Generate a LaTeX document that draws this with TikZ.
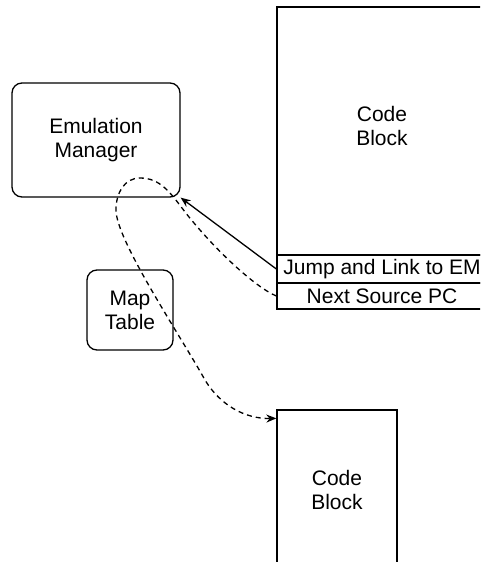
\documentclass[tikz,border=0pt]{standalone}
\usepackage{fontspec}
\setmainfont{Liberation Sans}
\usetikzlibrary{arrows.meta}

\begin{document}
\begin{tikzpicture}[x=1pt, y=-1pt, line width=1.3pt,
	box/.style={draw, rectangle, inner sep=0pt, align=center, font=\fontsize{21}{24}\selectfont},
	rbox/.style={box, rounded corners=10pt},
	emarrow/.style={-{Stealth[length=10pt, width=8pt]}},
	emdash/.style={dash pattern=on 5pt off 4pt}]
	\useasboundingbox (0,0) rectangle (480,562);
	\clip (0,0) rectangle (480,562);
	
	\node[rbox, minimum width=168pt, minimum height=114pt] (em) at (96,140) {Emulation\\Manager};
	\node[rbox, minimum width=86pt, minimum height=80pt] (map) at (130,310) {Map\\Table};
	
	\node[box, minimum width=210pt, minimum height=248pt,
		label={[align=center, yshift=5pt, font=\fontsize{21}{24}\selectfont]center:{Code\\Block}}] (cb1) at (382,131) {};
	\node[box, minimum width=210pt, minimum height=28pt] (jal) at (382,269) {Jump and Link to EM};
	\node[box, minimum width=210pt, minimum height=26pt] (nsp) at (382,296) {Next Source PC};
	\node[box, minimum width=120pt, minimum height=160pt] (cb2) at (337,490) {Code\\Block};
	
	\draw[emarrow] (jal.west) -- (em.south east);
	\draw[emarrow, emdash] (nsp.west) .. controls (255,287) and (215,250) .. (185,212)
		.. controls (170,192) and (160,178) .. (140,178)
		.. controls (125,178) and (116,192) .. (116,210)
		.. controls (116,240) and (180,335) .. (205,380)
		.. controls (220,405) and (245,419) .. ([yshift=-9pt]cb2.north west);
\end{tikzpicture}
\end{document}
